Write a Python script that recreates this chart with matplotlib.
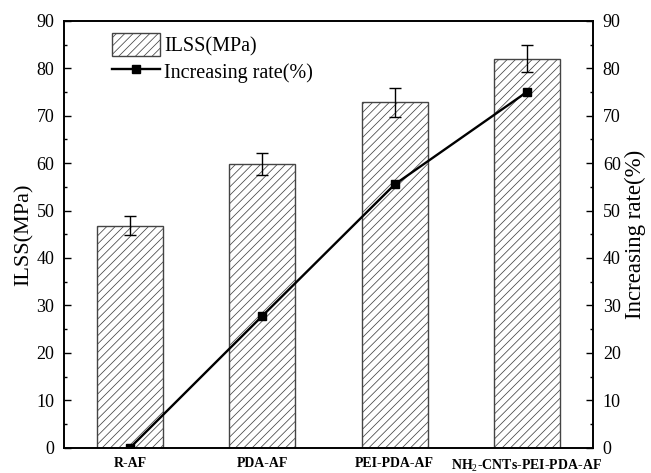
import matplotlib
matplotlib.use("Agg")
import matplotlib.pyplot as plt
from matplotlib.lines import Line2D
from matplotlib.patches import Patch

categories = ["R-AF", "PDA-AF", "PEI-PDA-AF", "NH$_2$-CNTs-PEI-PDA-AF"]
ilss = [46.8, 59.8, 72.8, 82.0]
ilss_err = [2.0, 2.3, 3.0, 2.8]
rate = [0.0, 27.8, 55.5, 75.0]
yticks = [0, 10, 20, 30, 40, 50, 60, 70, 80, 90]

plt.rcParams['font.family'] = ['Liberation Serif', 'DejaVu Serif']
plt.rcParams['mathtext.fontset'] = 'custom'
plt.rcParams['mathtext.rm'] = 'Liberation Serif'
plt.rcParams['mathtext.bf'] = 'Liberation Serif:bold'
plt.rcParams['hatch.color'] = '#9a9a9a'
plt.rcParams['hatch.linewidth'] = 0.55

fig = plt.figure(figsize=(6.51, 4.73), dpi=100)
ax = fig.add_axes([0.0983, 0.0535, 0.8127, 0.9025])
x = list(range(len(categories)))
ax.bar(x, ilss, width=0.5, color='white', edgecolor='#444444', linewidth=1.0,
       hatch='////', zorder=2)
ax.errorbar(x, ilss, yerr=ilss_err, fmt='none', ecolor='black', elinewidth=1.0,
            capsize=4, capthick=1.0, zorder=3)
ax.set_xlim(-0.5, 3.5)
ax.set_ylim(0, 90)
ax.set_yticks(yticks)
ax.set_xticks(x)
ax.set_xticklabels(categories, fontweight='bold', fontsize=10)
ax.tick_params(axis='x', length=0, pad=7)
ax.tick_params(axis='y', which='major', direction='in', length=5, width=1.0,
               labelsize=13, pad=7)
ax.set_yticks([5, 15, 25, 35, 45, 55, 65, 75, 85], minor=True)
ax.tick_params(axis='y', which='minor', direction='in', length=2.5, width=1.0)
ax.set_ylabel("ILSS(MPa)", fontsize=16, labelpad=2)
for s in ax.spines.values():
    s.set_linewidth(1.2)

ax2 = ax.twinx()
ax2.plot(x, rate, color='black', linewidth=1.7, marker='s', markersize=5.5,
         zorder=4)
ax2.set_ylim(0, 90)
ax2.set_yticks(yticks)
ax2.set_yticks([5, 15, 25, 35, 45, 55, 65, 75, 85], minor=True)
ax2.tick_params(axis='y', which='major', direction='in', length=5, width=1.0,
                labelsize=13, pad=7)
ax2.tick_params(axis='y', which='minor', direction='in', length=2.5, width=1.0)
ax2.set_ylabel("Increasing rate(%)", fontsize=16.5, labelpad=3)
for s in ax2.spines.values():
    s.set_linewidth(1.2)

handles = [Patch(facecolor='white', edgecolor='#444444', hatch='////', linewidth=1.0),
           Line2D([0], [0], color='black', linewidth=1.7, marker='s', markersize=5.5)]
labels = ["ILSS(MPa)", "Increasing rate(%)"]
ax2.legend(handles, labels, loc='upper left', bbox_to_anchor=(0.064, 1.005),
           frameon=False, fontsize=14.5, handlelength=2.4, handleheight=1.4,
           handletextpad=0.2, labelspacing=0.2, borderaxespad=0.3)

fig.savefig("out.png", dpi=100)
